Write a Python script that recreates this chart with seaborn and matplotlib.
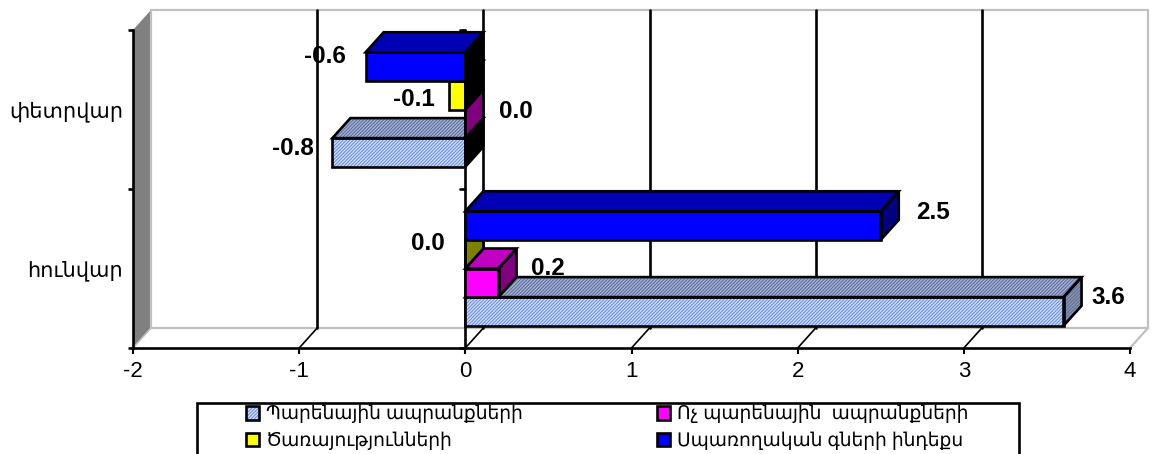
import matplotlib
matplotlib.use("Agg")
import matplotlib.pyplot as plt
from matplotlib.legend_handler import HandlerTuple
from matplotlib.patches import Patch, Polygon, Rectangle
import pandas as pd
import seaborn as sns

months = ["հունվար", "փետրվար"]
series = ["Պարենային ապրանքների", "Ոչ պարենային  ապրանքների",
          "Ծառայությունների", "Սպառողական գների ինդեքս"]
jan_values = [3.6, 0.2, 0.0, 2.5]
feb_values = [-0.8, 0.0, -0.1, -0.6]
x_ticks = [-2, -1, 0, 1, 2, 3, 4]

front_colors = ["#d3dffa", "#ff00ff", "#ffff00", "#0000ff"]
top_colors = ["#a3b0d3", "#c000c0", "#c0c000", "#0000b4"]
side_colors = ["#8b95ad", "#800080", "#808000", "#000080"]
hatch_front = "#5f86ee"
hatch_shade = "#5a6a9c"
hatch = "//////////"

# px to data: 166 px per x unit, 159 px per category
dx, dy = 18 / 166, 20 / 159
lw = 1.9

sns.set_theme(style = "white")
plt.rcParams["font.family"] = ["Liberation Sans", "DejaVu Sans"]
plt.rcParams["hatch.linewidth"] = 0.7
plt.rcParams["axes.unicode_minus"] = False

data = pd.DataFrame({
    "month": [months[0]] * 4 + [months[1]] * 4,
    "series": series * 2,
    "value": jan_values + feb_values
})

fig = plt.figure(figsize = (11.52, 4.54), dpi = 100)
ax = fig.add_axes([133 / 1152, 106 / 454, 997 / 1152, 318 / 454])

sns.barplot(data = data, y = "month", x = "value", hue = "series",
            order = months, hue_order = series, palette = front_colors,
            saturation = 1, width = 0.72, gap = 0, orient = "h", legend = False,
            ax = ax, errorbar = None)

ax.set_xlim(-2, 4)
ax.set_ylim(-0.5, 1.5)
ax.set_xlabel("")
ax.set_ylabel("")
ax.patch.set_visible(False)

# walls and floor
x0, x1, y0, y1 = -2, 4, -0.5, 1.5
ax.add_patch(Polygon([(x0, y0), (x0 + dx, y0 + dy), (x0 + dx, y1 + dy), (x0, y1)],
                     fc = "#808080", ec = "none", clip_on = False, zorder = 0.5))
ax.add_patch(Rectangle((x0 + dx, y0 + dy), x1 - x0, y1 - y0, fc = "white",
                       ec = "#c0c0c0", lw = 1.6, clip_on = False, zorder = 0.6))
ax.plot([x1, x1 + dx], [y0, y0 + dy], color = "#c0c0c0", lw = 1.6,
        clip_on = False, zorder = 0.6)
ax.plot([x0, x0 + dx], [y0, y0 + dy], color = "#c0c0c0", lw = 1.2,
        clip_on = False, zorder = 0.7)

for t in x_ticks[1:-1]:
    ax.plot([t + dx, t + dx], [y0 + dy, y1 + dy], color = "black", lw = lw,
            clip_on = False, zorder = 1)
    ax.plot([t, t + dx], [y0, y0 + dy], color = "black", lw = 1.2,
            clip_on = False, zorder = 1)

# the zero line, with its own ticks
ax.plot([0, 0], [y0, y1], color = "black", lw = lw, clip_on = False, zorder = 1.5)
for t in [y0, 0.5, y1]:
    ax.plot([-0.035, 0], [t, t], color = "black", lw = lw, clip_on = False,
            zorder = 1.5)

# bars: one container per series, faces added on top of the seaborn patches
offsets = [[(45, 14), (-39, 4)], [(49, 14), (51, 12)],
           [(-37, 11), (-35, -4)], [(52, 13), (-41, 10)]]

for i, container in enumerate(ax.containers):
    hatched = i == 0

    for j, bar in enumerate(container):
        value = bar.get_width() + bar.get_x()
        b0, b1 = bar.get_y(), bar.get_y() + bar.get_height()
        left, right = min(0, value), max(0, value)
        z = 3 + i

        bar.set_zorder(z)
        bar.set_linewidth(0)
        if hatched:
            bar.set_edgecolor(hatch_front)
            bar.set_hatch(hatch)

        top = [(left, b1), (left + dx, b1 + dy), (right + dx, b1 + dy), (right, b1)]
        side = [(right, b0), (right + dx, b0 + dy), (right + dx, b1 + dy), (right, b1)]
        side_color = "black" if value < 0 else side_colors[i]

        for pts, color in [(top, top_colors[i]), (side, side_color)]:
            shaded = hatched and color != "black"
            ax.add_patch(Polygon(pts, fc = color, ec = hatch_shade if shaded else "none",
                                 lw = 0, hatch = hatch if shaded else None,
                                 clip_on = False, zorder = z))
            ax.add_patch(Polygon(pts, fc = "none", ec = "black", lw = lw,
                                 joinstyle = "miter", clip_on = False,
                                 zorder = z + 0.1))
        ax.add_patch(Rectangle((left, b0), right - left, b1 - b0, fc = "none",
                               ec = "black", lw = lw, clip_on = False,
                               zorder = z + 0.1))

        ax.annotate("{:.1f}".format(value), xy = (value, (b0 + b1) / 2),
                    xytext = offsets[i][j], textcoords = "offset pixels",
                    ha = "center", va = "center", fontsize = 17.5,
                    fontweight = "bold", color = "black", zorder = 10,
                    annotation_clip = False)

# axes
sns.despine(ax = ax, top = True, right = True)
for name in ["left", "bottom"]:
    ax.spines[name].set_color("black")
    ax.spines[name].set_linewidth(lw)
    ax.spines[name].set_zorder(2)

ax.set_xticks(x_ticks)
ax.set_yticks([0, 1], months)
ax.set_yticks([y0, 0.5, y1], minor = True)
ax.tick_params(axis = "x", length = 4.5, width = lw * 0.8, pad = 5, color = "black",
               labelsize = 16, labelcolor = "black", bottom = True)
ax.tick_params(axis = "y", which = "major", length = 0, pad = 7, labelsize = 15,
               labelcolor = "black", left = False)
ax.tick_params(axis = "y", which = "minor", length = 3.5, width = lw, color = "black",
               left = True)

# legend
fig.add_artist(Rectangle((197 / 1152, -3 / 454), 822 / 1152, 54 / 454, fc = "white",
                         ec = "black", lw = lw, transform = fig.transFigure))
handles = [
    (Patch(fc = front_colors[0], ec = hatch_front, hatch = hatch, lw = 0),
     Patch(fc = "none", ec = "black", lw = lw)),
    Patch(fc = front_colors[2], ec = "black", lw = lw),
    Patch(fc = front_colors[1], ec = "black", lw = lw),
    Patch(fc = front_colors[3], ec = "black", lw = lw),
]
labels = [series[0], series[2], series[1], series[3]]
leg = fig.legend(handles, labels, ncol = 2, frameon = False, loc = "upper left",
                 bbox_to_anchor = (246 / 1152, 1 - 405 / 454), borderaxespad = 0,
                 borderpad = 0, fontsize = 13.4, handlelength = 0.72, handleheight = 0.72,
                 handletextpad = 0.35, labelspacing = 0.42, columnspacing = 7.2,
                 labelcolor = "black",
                 handler_map = {tuple: HandlerTuple(ndivide = 1, pad = 0)})
leg.set_zorder(20)

plt.savefig("out.png", dpi = 100)
